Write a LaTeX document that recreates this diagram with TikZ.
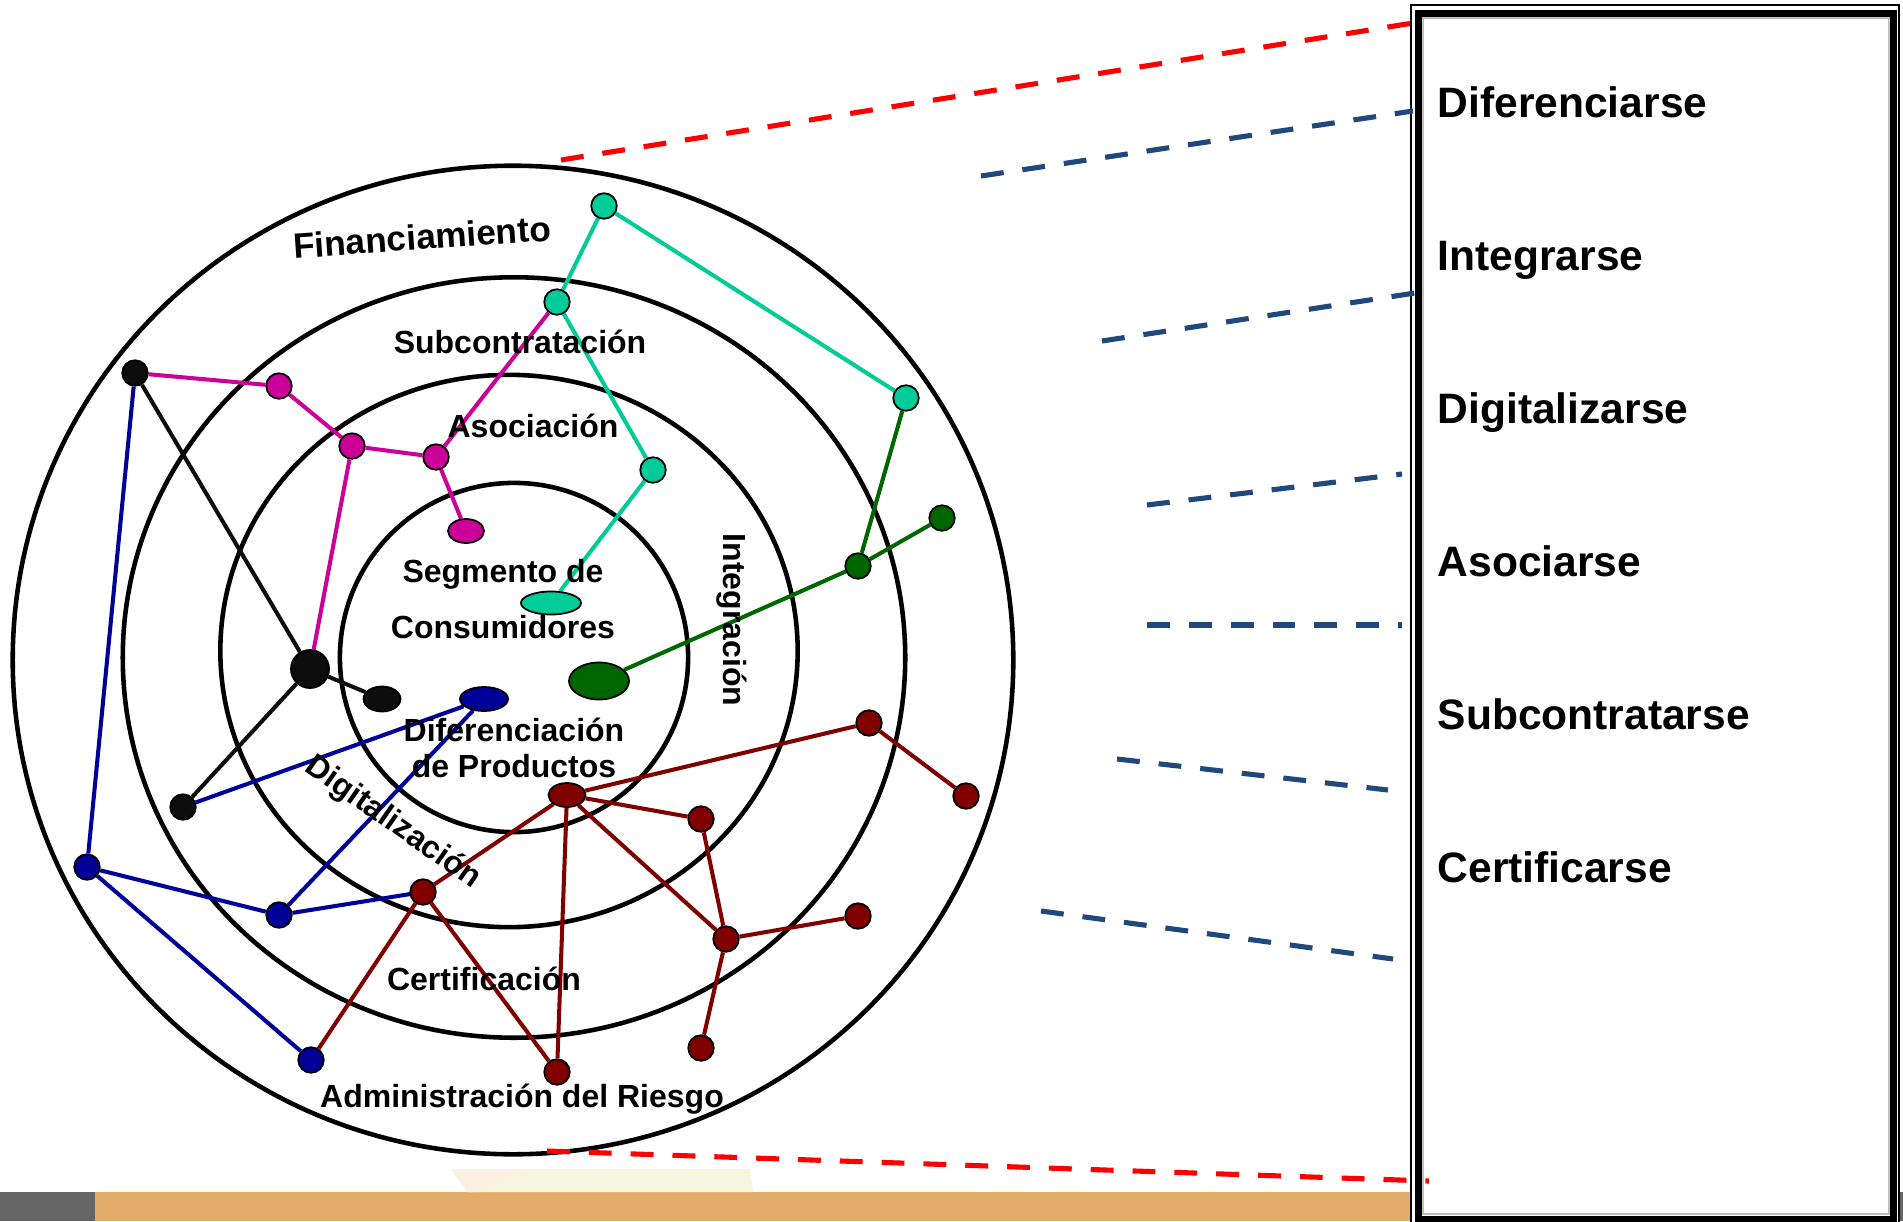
\documentclass[tikz,border=0pt]{standalone}
\usepackage{fontspec}
\setmainfont{Liberation Sans}
\usetikzlibrary{shapes.geometric}
\pgfdeclarelayer{back}
\pgfdeclarelayer{bg}
\pgfsetlayers{back,bg,main}
\definecolor{teal1}{RGB}{0,204,153}
\definecolor{mag1}{RGB}{204,0,153}
\definecolor{blu1}{RGB}{0,0,153}
\definecolor{red1}{RGB}{128,0,0}
\definecolor{grn1}{RGB}{0,102,0}
\definecolor{blk1}{RGB}{13,13,13}
\definecolor{dashblue}{RGB}{31,73,125}
\definecolor{stripor}{RGB}{226,171,105}
\definecolor{stripgr}{RGB}{102,102,102}
\definecolor{paleyel}{RGB}{246,246,223}
\definecolor{paleor}{RGB}{253,240,225}
\tikzset{
  ring/.style={draw=black, line width=1.3pt},
  dot/.style={circle, draw=black, line width=0.5pt, minimum size=0.255cm, inner sep=0pt},
  oval/.style={ellipse, draw=black, line width=0.5pt, inner sep=0pt},
  link/.style={line width=1.15pt},
  lbl/.style={font=\fontsize{9.1}{11}\selectfont\bfseries, inner sep=0pt},
  boxlbl/.style={font=\fontsize{12.1}{14}\selectfont\bfseries, inner sep=0pt, anchor=base west},
  dline/.style={line width=1.45pt, dash pattern=on 6.5pt off 5.4pt}
}
\begin{document}
\begin{tikzpicture}[x=0.01cm, y=-0.01cm]
\begin{pgfonlayer}{back}
\fill[white] (0,0) rectangle (1903,1221);
% bottom strip
\fill[stripgr] (0,1192) rectangle (95,1221);
\fill[stripor] (95,1192) rectangle (1411,1221);
\fill[stripgr] (1898,1192) rectangle (1903,1221);
\fill[paleyel] (451,1169) -- (750,1169) -- (753,1192) -- (467,1192) -- cycle;
\fill[paleor] (451,1169) -- (522,1169) -- (480,1192) -- (467,1192) -- cycle;
\end{pgfonlayer}
\useasboundingbox (0,0) rectangle (1903,1221);

% right box
\fill[white] (1411,5) rectangle (1899,1221);
\draw[line width=0.35pt] (1411,5) rectangle (1899,1240);
\draw[gray!50, line width=0.3pt] (1423,18) rectangle (1889,1214);
\draw[line width=2pt] (1418.5,13.5) rectangle (1893.5,1219);

\node[boxlbl] (l1) at (1437,117) {Diferenciarse};
\node[boxlbl] (l2) at (1437,270) {Integrarse};
\node[boxlbl] (l3) at (1437,423) {Digitalizarse};
\node[boxlbl] (l4) at (1437,576) {Asociarse};
\node[boxlbl] (l5) at (1437,729) {Subcontratarse};
\node[boxlbl] (l6) at (1437,882) {Certificarse};

% dashed guide lines
\coordinate (ra) at (561,160);  \coordinate (rb) at (1413,23);
\coordinate (rc) at (547,1151); \coordinate (rd) at (1429,1181);
\coordinate (d1a) at (981,176);  \coordinate (d1b) at (1413,111);
\coordinate (d2a) at (1102,341); \coordinate (d2b) at (1415,293);
\coordinate (d3a) at (1147,505); \coordinate (d3b) at (1402,474);
\coordinate (d4a) at (1147,625); \coordinate (d4b) at (1402,625);
\coordinate (d5a) at (1117,759); \coordinate (d5b) at (1388,790);
\coordinate (d6a) at (1041,911); \coordinate (d6b) at (1393,959);
\draw[dline, red] (ra) -- (rb);
\draw[dline, red] (rc) -- (rd);
\draw[dline, dashblue] (d1a) -- (d1b);
\draw[dline, dashblue] (d2a) -- (d2b);
\draw[dline, dashblue] (d3a) -- (d3b);
\draw[dline, dashblue] (d4a) -- (d4b);
\draw[dline, dashblue] (d5a) -- (d5b);
\draw[dline, dashblue] (d6a) -- (d6b);

% nodes
\node[dot, fill=teal1] (t1) at (604,206) {};
\node[dot, fill=teal1] (t2) at (557,302) {};
\node[dot, fill=teal1] (t3) at (906,398) {};
\node[dot, fill=teal1] (t4) at (653,470) {};
\node[oval, fill=teal1, minimum width=0.6cm, minimum height=0.23cm] (t5) at (551,603) {};

\node[dot, fill=mag1] (m1) at (279,386) {};
\node[dot, fill=mag1] (m2) at (352,446) {};
\node[dot, fill=mag1] (m3) at (436,457) {};
\node[oval, fill=mag1, minimum width=0.36cm, minimum height=0.24cm] (m4) at (466,531) {};

\node[dot, fill=blk1] (k1) at (135,373) {};
\node[dot, fill=blk1, minimum size=0.38cm] (k2) at (310,669) {};
\node[oval, fill=blk1, minimum width=0.37cm, minimum height=0.25cm] (k3) at (382,699) {};
\node[dot, fill=blk1] (k4) at (183,807) {};

\node[oval, fill=blu1, minimum width=0.48cm, minimum height=0.24cm] (b1) at (484,699) {};
\node[dot, fill=blu1] (b2) at (87,867) {};
\node[dot, fill=blu1] (b3) at (279,915) {};
\node[dot, fill=blu1] (b4) at (311,1060) {};

\node[oval, fill=red1, minimum width=0.37cm, minimum height=0.24cm] (r1) at (567,795) {};
\node[dot, fill=red1] (r2) at (423,892) {};
\node[dot, fill=red1] (r3) at (701,819) {};
\node[dot, fill=red1] (r4) at (869,723) {};
\node[dot, fill=red1] (r5) at (966,796) {};
\node[dot, fill=red1] (r6) at (726,939) {};
\node[dot, fill=red1] (r7) at (858,916) {};
\node[dot, fill=red1] (r8) at (701,1048) {};
\node[dot, fill=red1] (r9) at (557,1072) {};

\node[oval, fill=grn1, minimum width=0.6cm, minimum height=0.37cm] (g1) at (599,681) {};
\node[dot, fill=grn1] (g2) at (858,566) {};
\node[dot, fill=grn1] (g3) at (942,518) {};

\begin{pgfonlayer}{bg}
\draw[ring] (513,660) ellipse [x radius=5.00cm, y radius=4.94cm];
\draw[ring] (514,657.5) ellipse [x radius=3.91cm, y radius=3.80cm];
\draw[ring] (509,651) ellipse [x radius=2.885cm, y radius=2.76cm];
\draw[ring] (514,657.5) ellipse [x radius=1.74cm, y radius=1.745cm];

\draw[link, teal1] (t5) -- (t4) -- (t2) -- (t1) -- (t3);
\draw[link, mag1] (k1) -- (m1) -- (m2) -- (m3) -- (t2);
\draw[link, mag1] (m3) -- (m4);
\draw[link, mag1] (m2) -- (k2);
\draw[link, blk1] (k1) -- (k2);
\draw[link, blk1] (k2) -- (k3);
\draw[link, blk1] (k2) -- (k4);
\draw[link, blu1] (k1) -- (b2);
\draw[link, blu1] (b2) -- (b3);
\draw[link, blu1] (b2) -- (b4);
\draw[link, blu1] (b3) -- (b1);
\draw[link, blu1] (k4) -- (b1);
\draw[link, blu1] (b3) -- (r2.center);
\draw[link, red1] (r1) -- (r4) -- (r5);
\draw[link, red1] (r1) -- (r3) -- (r6);
\draw[link, red1] (r1) -- (r6);
\draw[link, red1] (r6) -- (r7);
\draw[link, red1] (r6) -- (r8);
\draw[link, red1] (r1) -- (r9);
\draw[link, red1] (r1) -- (r2);
\draw[link, red1] (r2) -- (r9);
\draw[link, red1] (r2) -- (b4);
\draw[link, grn1] (g1) -- (g2) -- (g3);
\draw[link, grn1] (g2) -- (t3);
\end{pgfonlayer}

% ring labels
\node[lbl, font=\fontsize{10}{12}\selectfont\bfseries, rotate=4] (fin) at (422,237) {Financiamiento};
\node[lbl, anchor=base] (sub) at (520,353) {Subcontratación};
\node[lbl, anchor=base] (aso) at (533,437) {Asociación};
\node[lbl, anchor=base] (seg1) at (503,582) {Segmento de};
\node[lbl, anchor=base] (seg2) at (503,638) {Consumidores};
\node[lbl, anchor=base] (dif1) at (514,741) {Diferenciación};
\node[lbl, anchor=base] (dif2) at (514,777) {de Productos};
\node[lbl, rotate=-90] (int) at (732,620) {Integración};
\node[lbl, rotate=-35] (dig) at (393,823) {Digitalización};
\node[lbl, anchor=base] (cer) at (484,990) {Certificación};
\node[lbl, anchor=base] (adm) at (522,1107) {Administración del Riesgo};
\end{tikzpicture}
\end{document}
